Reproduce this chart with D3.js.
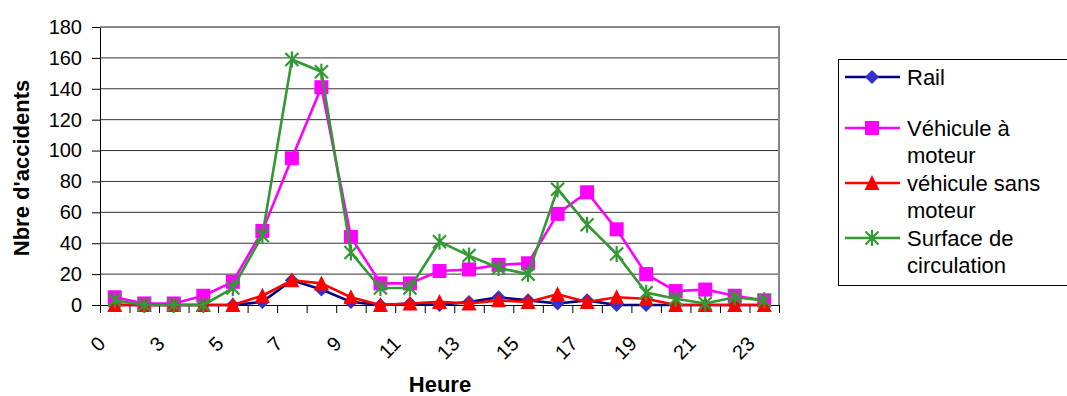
<!DOCTYPE html>
<html>
<head>
<meta charset="utf-8">
<script src="https://cdn.jsdelivr.net/npm/d3@7"></script>
<style>
  html, body { margin: 0; padding: 0; background: #fff; }
  svg { display: block; font-family: Arial, "Liberation Sans", sans-serif; }
</style>
</head>
<body>
<svg id="chart" width="1067" height="396"></svg>
<script>
// Heures de la journée (catégories de l'axe X)
const heures = ["0","1","3","4","5","6","7","8","9","10","11","12","13","14","15","16","17","18","19","20","21","22","23"];

// Nombre d'accidents par heure et par type
const rail           = [0,0,0,0,0,2,16,10,2,0,1,0,2,5,3,1,3,0,0,0,0,0,0];
const vehiculeMoteur = [5,1,1,6,15,48,95,141,44,14,14,22,23,26,27,59,73,49,20,9,10,6,3];
const vehiculeSans   = [0,0,0,0,0,6,16,14,5,0,1,2,1,3,2,7,2,5,4,0,0,0,0];
const surface        = [3,0,0,0,11,45,159,151,34,11,11,41,32,24,20,75,52,33,8,4,1,5,3];

const yTicks = [0,20,40,60,80,100,120,140,160,180];

const series = [
  { name: ["Rail"], values: rail, line: "#000080", fill: "#3333cc", marker: "diamond" },
  { name: ["Véhicule à", "moteur"], values: vehiculeMoteur, line: "#ff00ff", fill: "#ff00ff", marker: "square" },
  { name: ["véhicule sans", "moteur"], values: vehiculeSans, line: "#ff0000", fill: "#ff0000", marker: "triangle" },
  { name: ["Surface de", "circulation"], values: surface, line: "#339933", fill: "#339933", marker: "star" }
];

const svg = d3.select("#chart");
const plotLeft = 100, plotRight = 779, plotTop = 27, plotBottom = 305;

const x = d3.scaleBand().domain(heures).range([plotLeft, plotRight]).padding(0);
const xEdge = d3.scaleLinear().domain([0, heures.length]).range([plotLeft, plotRight]);
const y = d3.scaleLinear().domain([0, 180]).range([plotBottom, plotTop]);
const cx = (i) => x(heures[i]) + x.bandwidth() / 2;

// Grille horizontale
svg.append("g")
  .selectAll("line")
  .data(yTicks.filter(v => v > 0 && v < 180))
  .join("line")
  .attr("x1", plotLeft).attr("x2", plotRight)
  .attr("y1", d => y(d)).attr("y2", d => y(d))
  .attr("stroke", "#333").attr("stroke-width", 1);

// Cadre de la zone de tracé (haut et droite)
svg.append("path")
  .attr("d", `M${plotLeft},${y(180)}H${plotRight}V${plotBottom}`)
  .attr("fill", "none").attr("stroke", "#888").attr("stroke-width", 2);

// Axe Y
const yAxis = svg.append("g")
  .attr("transform", `translate(${plotLeft},0)`)
  .call(d3.axisLeft(y).tickValues(yTicks).tickSize(8).tickPadding(10).tickSizeOuter(0));
yAxis.selectAll("text").attr("font-size", 20).attr("fill", "#000").attr("font-family", "Arial, 'Liberation Sans', sans-serif");
yAxis.selectAll("line, path").attr("stroke", "#000");

// Graduations de l'axe X entre les catégories
const xTickAxis = svg.append("g")
  .attr("transform", `translate(0,${plotBottom})`)
  .call(d3.axisBottom(xEdge).tickValues(d3.range(0, heures.length + 1)).tickSize(8).tickFormat("").tickSizeOuter(0));
xTickAxis.selectAll("line, path").attr("stroke", "#000");

// Étiquettes de l'axe X (une sur deux), inclinées
const xLabelAxis = svg.append("g")
  .attr("transform", `translate(0,${plotBottom})`)
  .call(d3.axisBottom(x).tickValues(heures.filter((d, i) => i % 2 === 0)).tickSize(0).tickPadding(0));
xLabelAxis.select(".domain").remove();
xLabelAxis.selectAll("text")
  .attr("font-size", 20).attr("fill", "#000")
  .attr("font-family", "Arial, 'Liberation Sans', sans-serif")
  .attr("text-anchor", "end")
  .attr("y", 0).attr("dy", "0.35em")
  .attr("transform", "translate(-13,35) rotate(-45)");

// Titres des axes
svg.append("text")
  .attr("x", 440).attr("y", 392)
  .attr("text-anchor", "middle")
  .attr("font-size", 22).attr("font-weight", "bold")
  .text("Heure");

svg.append("text")
  .attr("transform", `translate(29,${(plotTop + plotBottom) / 2 + 2}) rotate(-90)`)
  .attr("text-anchor", "middle")
  .attr("font-size", 22).attr("font-weight", "bold")
  .text("Nbre d'accidents");

// Marqueurs
function drawMarker(g, type, color, fill) {
  if (type === "diamond") {
    g.append("path").attr("d", "M0,-7L7,0L0,7L-7,0Z").attr("fill", fill);
  } else if (type === "square") {
    g.append("rect").attr("x", -7).attr("y", -7).attr("width", 14).attr("height", 14).attr("fill", fill);
  } else if (type === "triangle") {
    g.append("path").attr("d", "M0,-8L7.5,7L-7.5,7Z").attr("fill", fill);
  } else if (type === "star") {
    g.append("path").attr("d", "M-6.5,-6.5L6.5,6.5M-6.5,6.5L6.5,-6.5M0,-8L0,8")
      .attr("stroke", color).attr("stroke-width", 2.2).attr("fill", "none");
  }
}

const line = d3.line().x((d, i) => cx(i)).y(d => y(d));

series.forEach(s => {
  const g = svg.append("g");
  g.append("path")
    .datum(s.values)
    .attr("d", line)
    .attr("fill", "none")
    .attr("stroke", s.line)
    .attr("stroke-width", 2.6)
    .attr("stroke-linejoin", "round");
  s.values.forEach((v, i) => {
    const m = g.append("g").attr("transform", `translate(${cx(i)},${y(v)})`);
    drawMarker(m, s.marker, s.line, s.fill);
  });
});

// Légende
const legend = svg.append("g");
legend.append("rect")
  .attr("x", 838.5).attr("y", 59.5).attr("width", 260).attr("height", 226)
  .attr("fill", "#fff").attr("stroke", "#000").attr("stroke-width", 1);

const legendY = [77, 128, 183, 238];
series.forEach((s, k) => {
  const ly = legendY[k];
  legend.append("line")
    .attr("x1", 845).attr("x2", 900).attr("y1", ly).attr("y2", ly)
    .attr("stroke", s.line).attr("stroke-width", 2.6);
  const m = legend.append("g").attr("transform", `translate(872,${ly})`);
  drawMarker(m, s.marker, s.line, s.fill);
  s.name.forEach((t, j) => {
    legend.append("text")
      .attr("x", 907).attr("y", ly + j * 27)
      .attr("dy", "0.35em")
      .attr("font-size", 22)
      .attr("fill", "#000")
      .text(t);
  });
});
</script>
</body>
</html>
